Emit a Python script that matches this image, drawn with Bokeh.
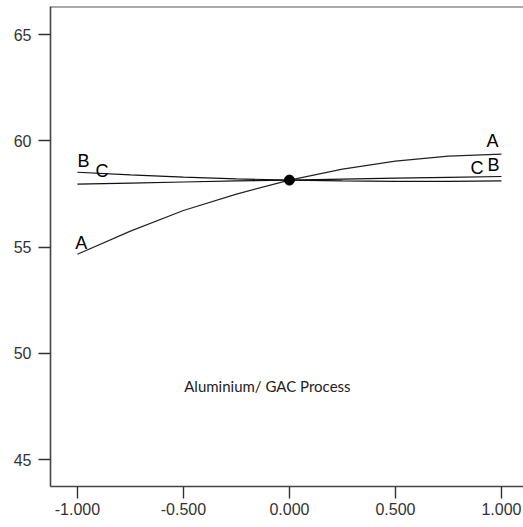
from bokeh.plotting import figure
from bokeh.models import Range1d, Span, FixedTicker, NumeralTickFormatter, ColumnDataSource
from bokeh.core.properties import value
from bokeh.embed import file_html
from bokeh.resources import INLINE

# Perturbation plot: deviation from reference point (coded units) vs response
x_dev = [-1.0, -0.75, -0.5, -0.25, 0.0, 0.25, 0.5, 0.75, 1.0]
factor_a = [54.66, 55.75, 56.72, 57.49, 58.15, 58.67, 59.04, 59.28, 59.37]
factor_b = [58.52, 58.40, 58.29, 58.21, 58.15, 58.11, 58.09, 58.09, 58.11]
factor_c = [57.96, 58.01, 58.06, 58.11, 58.15, 58.20, 58.24, 58.28, 58.32]

ref_x = [0.0]
ref_y = [58.15]

x_ticks = [-1.0, -0.5, 0.0, 0.5, 1.0]
y_ticks = [45, 50, 55, 60, 65]

title_text = "Aluminium/ GAC Process"

p = figure(width=523, height=527, output_backend="svg", toolbar_location=None,
           x_range=Range1d(-1.127, 1.104), y_range=Range1d(43.73, 66.32),
           min_border_left=50, min_border_right=0, min_border_top=6, min_border_bottom=41)
p.background_fill_color = "white"
p.border_fill_color = "white"
p.outline_line_color = None
p.grid.visible = False

for ax in (p.xaxis[0], p.yaxis[0]):
    ax.axis_line_color = "#444444"
    ax.axis_line_width = 1.6
    ax.major_tick_line_color = "#333333"
    ax.major_tick_line_width = 1.4
    ax.major_tick_in = 0
    ax.major_tick_out = 12
    ax.minor_tick_line_color = None
    ax.major_label_text_font = "Liberation Sans"
    ax.major_label_text_font_size = "16px"
    ax.major_label_text_color = "#333333"

p.xaxis.ticker = FixedTicker(ticks=x_ticks)
p.xaxis.formatter = NumeralTickFormatter(format="0.000")
p.xaxis.major_label_standoff = 4
p.yaxis.ticker = FixedTicker(ticks=y_ticks)
p.yaxis.major_label_standoff = 7

# top edge of the frame
p.add_layout(Span(location=66.32, dimension="width", line_color="#555555", line_width=2))

p.line(x_dev, factor_a, line_color="#222222", line_width=1.2)
p.line(x_dev, factor_b, line_color="#111111", line_width=1.2)
p.line(x_dev, factor_c, line_color="#111111", line_width=1.2)
p.scatter(ref_x, ref_y, size=10, color="black")

# factor letters at both ends of each trace
lbl = ColumnDataSource(dict(
    x=[-1.0, -0.915, -1.01, 0.929, 0.854, 0.934],
    y=[59.07, 58.60, 55.21, 59.97, 58.74, 58.84],
    t=["B", "C", "A", "A", "C", "B"],
))
p.text(x="x", y="y", text="t", source=lbl, text_font=value("Liberation Sans"),
       text_font_size="18px", text_color="black", text_baseline="alphabetic",
       text_align="left")

p.text(x=[-0.104], y=[48.44], text=[title_text], text_font=value("Lato"),
       text_font_size="15px", text_color="#222222", text_align="center",
       text_baseline="middle")

open("out.html", "w").write(file_html(p, INLINE))
